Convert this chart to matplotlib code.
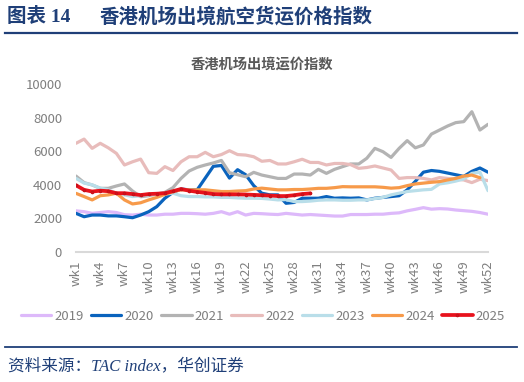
import matplotlib
matplotlib.use('Agg')
import matplotlib.pyplot as plt
from matplotlib.lines import Line2D
import numpy as np

plt.rcParams['font.family'] = ['Noto Sans CJK SC', 'DejaVu Sans']

#region Data (unit: index points)
weeks = list(range(1, 53))
tick_weeks = list(range(1, 53, 3))
tick_labels = ['wk%d' % w for w in tick_weeks]
years = ['2019', '2020', '2021', '2022', '2023', '2024', '2025']

y2019 = [2450, 2400, 2300, 2350, 2400, 2350, 2220, 2200, 2250, 2200, 2200, 2250, 2250,
         2300, 2300, 2280, 2250, 2300, 2400, 2250, 2400, 2200, 2300, 2280, 2250, 2230,
         2300, 2250, 2200, 2230, 2200, 2170, 2140, 2140, 2230, 2230, 2230, 2250, 2250,
         2300, 2330, 2450, 2540, 2640, 2550, 2580, 2560, 2500, 2460, 2420, 2350, 2250]
y2020 = [2300, 2100, 2200, 2200, 2150, 2150, 2100, 2040, 2200, 2400, 2700, 3200, 3550,
         3750, 3700, 3700, 4400, 5100, 5150, 4400, 4900, 4600, 3950, 3500, 3400, 3400,
         2900, 2950, 3200, 3200, 3200, 3300, 3200, 3220, 3200, 3220, 3100, 3200, 3250,
         3300, 3350, 3700, 4200, 4750, 4850, 4800, 4700, 4600, 4500, 4800, 5000, 4750]
y2021 = [4520, 4130, 3990, 3790, 3790, 3930, 4050, 3630, 3290, 3350, 3450, 3550, 3830,
         4380, 4820, 5040, 5180, 5300, 5450, 4720, 4600, 4480, 4740, 4580, 4480, 4380,
         4380, 4640, 4640, 4580, 4920, 4680, 4920, 5080, 5240, 5240, 5580, 6170, 5970,
         5630, 6170, 6630, 6200, 6370, 7020, 7260, 7500, 7700, 7760, 8350, 7260, 7600]
y2022 = [6470, 6720, 6170, 6470, 6200, 5870, 5180, 5370, 5530, 4720, 4680, 5080, 4850,
         5370, 5670, 5670, 5930, 5670, 5800, 6030, 5800, 5770, 5670, 5400, 5450, 5240,
         5240, 5370, 5520, 5330, 5330, 5180, 5270, 5270, 5200, 4980, 5030, 5120, 5000,
         4880, 4380, 4430, 4430, 4380, 4290, 4430, 4380, 4330, 4290, 4130, 4330, 4250]
y2023 = [4380, 4100, 4000, 3800, 3700, 3500, 3400, 3300, 3350, 3400, 3450, 3450, 3500,
         3350, 3300, 3300, 3280, 3280, 3250, 3250, 3220, 3200, 3200, 3190, 3150, 3100,
         3120, 3000, 3000, 3030, 3080, 3100, 3100, 3080, 3080, 3100, 3100, 3180, 3250,
         3400, 3500, 3600, 3650, 3700, 3730, 4050, 4120, 4220, 4350, 4680, 4750, 3650]
y2024 = [3490, 3300, 3100, 3350, 3400, 3500, 3100, 2860, 2930, 3100, 3250, 3430, 3590,
         3700, 3700, 3700, 3700, 3650, 3600, 3600, 3630, 3650, 3750, 3800, 3750, 3700,
         3700, 3720, 3720, 3750, 3790, 3790, 3830, 3890, 3880, 3880, 3880, 3880, 3850,
         3800, 3830, 3950, 4050, 4100, 4150, 4190, 4290, 4380, 4520, 4580, 4420]
y2025 = [3970, 3700, 3600, 3650, 3620, 3500, 3500, 3450, 3390, 3450, 3470, 3500, 3620,
         3750, 3650, 3580, 3520, 3450, 3430, 3430, 3430, 3420, 3400, 3380, 3360, 3330,
         3330, 3380, 3450, 3490]

series = [y2019, y2020, y2021, y2022, y2023, y2024, y2025]
colors = ['#DDB9FA', '#0A63BD', '#B3B3B3', '#E8BCBB', '#B9DEE9', '#F79A4A', '#E8121C']
#endregion

navy = '#1F3F78'
grey_txt = '#7F7F7F'

fig = plt.figure(figsize=(5.24, 3.82), dpi=100)

# header
fig.text(7 / 524, 1 - 17 / 382, '图表 14', fontsize=14, fontweight='bold', color=navy,
         family=['Liberation Serif', 'Noto Sans CJK SC'], va='center', ha='left')
fig.text(100 / 524, 1 - 17 / 382, '香港机场出境航空货运价格指数', fontsize=14,
         fontweight='bold', color=navy, va='center', ha='left')
fig.add_artist(Line2D([5 / 524, 517 / 524], [1 - 33 / 382, 1 - 33 / 382],
                      color=navy, lw=1.6, transform=fig.transFigure))

# chart title
fig.text(262 / 524, 1 - 65 / 382, '香港机场出境运价指数', fontsize=10.3, fontweight='bold',
         color='#595959', va='center', ha='center')

# plot area
ax = fig.add_axes([76 / 524, 1 - 252 / 382, (488 - 76) / 524, (252 - 84) / 382])
for yr, vals, c in zip(years, series, colors):
    x = weeks[:len(vals)]
    if yr == '2025':
        ax.plot(x, vals, color=c, lw=2.7, marker='o', ms=1.6, mec='#C8101A', label=yr,
                zorder=10, solid_capstyle='round')
    else:
        ax.plot(x, vals, color=c, lw=2.3, label=yr, solid_capstyle='round')

ax.set_xlim(1, 52)
ax.set_ylim(0, 10000)
ax.set_yticks(range(0, 10001, 2000))
ax.set_xticks(tick_weeks)
ax.set_xticklabels(tick_labels, rotation=90)
ax.tick_params(axis='both', length=0, labelsize=9.5, colors=grey_txt)
ax.tick_params(axis='y', pad=10)
ax.tick_params(axis='x', pad=6)
for s in ['top', 'right', 'left']:
    ax.spines[s].set_visible(False)
ax.spines['bottom'].set_color('#D9D9D9')
ax.spines['bottom'].set_linewidth(1.5)
ax.set_facecolor('none')

fig.legend(loc='center', bbox_to_anchor=(263 / 524, 1 - 316 / 382), ncol=7,
           frameon=False, fontsize=9.5, labelcolor=grey_txt, handlelength=2.3,
           handletextpad=0.25, columnspacing=0.55)

# footer
fig.add_artist(Line2D([5 / 524, 517 / 524], [1 - 347 / 382, 1 - 347 / 382],
                      color=navy, lw=1.3, transform=fig.transFigure))
fig.text(8 / 524, 1 - 366 / 382, '资料来源：TAC index，华创证券', fontsize=12,
         style='italic', color=navy, family=['Liberation Serif', 'Noto Sans CJK SC'],
         va='center', ha='left')

fig.savefig('out.png', dpi=100)
